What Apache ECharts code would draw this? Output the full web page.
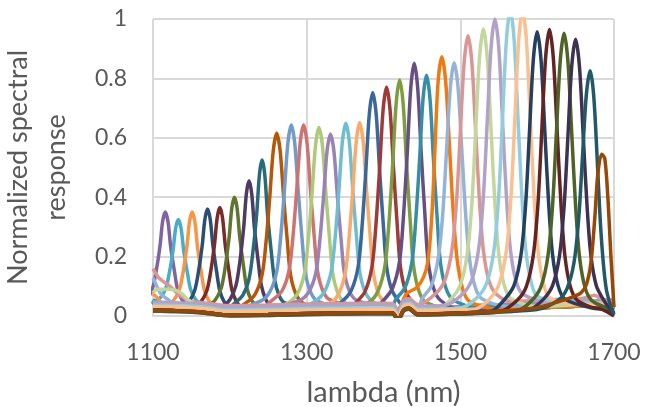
<!DOCTYPE html>
<html>
<head>
<meta charset="utf-8">
<script src="https://cdn.jsdelivr.net/npm/echarts@6/dist/echarts.min.js"></script>
<style>html,body{margin:0;padding:0;background:#fff}#c{width:645px;height:407px}</style>
</head>
<body>
<div id="c"></div>
<script>
// Tick labels
const xTicks = [1100, 1300, 1500, 1700];
const yTicks = [0, 0.2, 0.4, 0.6, 0.8, 1];

// One array per detector channel: [wavelength nm, normalized response]
const s01 = [[1081,0.038],[1091,0.054],[1099,0.09],[1104,0.149],[1109,0.233],[1112.5,0.318],[1116,0.35],[1119.5,0.318],[1123,0.233],[1128,0.149],[1132,0.09],[1138,0.054],[1145,0.038],[1165,0.03],[1200,0.02],[1250,0.022],[1300,0.025],[1350,0.027],[1400,0.028],[1412,0.027],[1419,0.003],[1426,0.037],[1433,0.043],[1445,0.023],[1500,0.027],[1550,0.033],[1600,0.037],[1650,0.043],[1680,0.045],[1700,0.035]];
const s02 = [[1098,0.042],[1108,0.057],[1116,0.089],[1121,0.142],[1126,0.219],[1129.5,0.296],[1133,0.325],[1136.5,0.296],[1140,0.219],[1145,0.142],[1149,0.089],[1155,0.057],[1162,0.042],[1200,0.025],[1250,0.027],[1300,0.03],[1350,0.032],[1400,0.033],[1412,0.032],[1419,0.008],[1426,0.042],[1433,0.048],[1445,0.028],[1500,0.032],[1550,0.038],[1600,0.042],[1650,0.048],[1680,0.05],[1700,0.04]];
const s03 = [[1100,0.075],[1106,0.06],[1112,0.04],[1116,0.033],[1126,0.05],[1134,0.086],[1139,0.145],[1144,0.231],[1147.5,0.317],[1151,0.35],[1154.5,0.317],[1158,0.231],[1163,0.145],[1167,0.086],[1173,0.05],[1180,0.033],[1200,0.015],[1250,0.017],[1300,0.02],[1350,0.022],[1400,0.023],[1412,0.022],[1419,-0.002],[1426,0.032],[1433,0.038],[1445,0.018],[1500,0.022],[1550,0.028],[1600,0.032],[1650,0.038],[1680,0.04],[1700,0.03]];
const s04 = [[1100,0.027],[1125,0.025],[1136,0.029],[1146,0.046],[1154,0.084],[1159,0.146],[1164,0.236],[1167.5,0.325],[1171,0.36],[1174.5,0.325],[1178,0.236],[1183,0.146],[1187,0.084],[1193,0.046],[1200,0.029],[1225,0.011],[1250,0.012],[1300,0.015],[1350,0.017],[1400,0.018],[1412,0.017],[1419,-0.007],[1426,0.027],[1433,0.033],[1445,0.013],[1500,0.017],[1550,0.023],[1600,0.027],[1650,0.033],[1680,0.035],[1700,0.025]];
const s05 = [[1100,0.027],[1130,0.025],[1152,0.029],[1162,0.047],[1170,0.085],[1175,0.148],[1180,0.239],[1183.5,0.33],[1187,0.365],[1190.5,0.33],[1194,0.239],[1199,0.148],[1203,0.085],[1209,0.047],[1216,0.029],[1250,0.012],[1300,0.015],[1350,0.017],[1400,0.018],[1412,0.017],[1419,-0.007],[1426,0.027],[1433,0.033],[1445,0.013],[1500,0.017],[1550,0.023],[1600,0.027],[1650,0.033],[1680,0.035],[1700,0.025]];
const s06 = [[1100,0.032],[1130,0.03],[1160,0.025],[1171,0.035],[1181,0.054],[1189,0.096],[1194,0.164],[1199,0.263],[1202.5,0.362],[1206,0.4],[1209.5,0.362],[1213,0.263],[1218,0.164],[1222,0.096],[1228,0.054],[1235,0.035],[1260,0.017],[1300,0.02],[1350,0.022],[1400,0.023],[1412,0.022],[1419,-0.002],[1426,0.032],[1433,0.038],[1445,0.018],[1500,0.022],[1550,0.028],[1600,0.032],[1650,0.038],[1680,0.04],[1700,0.03]];
const s07 = [[1100,0.027],[1130,0.025],[1165,0.02],[1190,0.033],[1200,0.055],[1208,0.103],[1213,0.182],[1218,0.297],[1221.5,0.411],[1225,0.455],[1228.5,0.411],[1232,0.297],[1237,0.182],[1241,0.103],[1247,0.055],[1254,0.033],[1300,0.015],[1350,0.017],[1400,0.018],[1412,0.017],[1419,-0.007],[1426,0.027],[1433,0.033],[1445,0.013],[1500,0.017],[1550,0.023],[1600,0.027],[1650,0.033],[1680,0.035],[1700,0.025]];
const s08 = [[1100,0.037],[1130,0.035],[1165,0.03],[1195,0.022],[1207,0.045],[1217,0.07],[1225,0.125],[1230,0.215],[1235,0.345],[1238.5,0.475],[1242,0.525],[1245.5,0.475],[1249,0.345],[1254,0.215],[1258,0.125],[1264,0.07],[1271,0.045],[1300,0.025],[1350,0.027],[1400,0.028],[1412,0.027],[1419,0.003],[1426,0.037],[1433,0.043],[1445,0.023],[1500,0.027],[1550,0.033],[1600,0.037],[1650,0.043],[1680,0.045],[1700,0.035]];
const s09 = [[1100,0.032],[1130,0.03],[1165,0.025],[1200,0.015],[1221,0.044],[1233,0.074],[1242,0.139],[1247,0.246],[1252,0.401],[1256.5,0.556],[1261,0.615],[1265.5,0.556],[1270,0.401],[1275,0.246],[1279,0.139],[1286,0.074],[1295,0.044],[1320,0.02],[1350,0.022],[1400,0.023],[1412,0.022],[1419,-0.002],[1426,0.032],[1433,0.038],[1445,0.018],[1500,0.022],[1550,0.028],[1600,0.032],[1650,0.038],[1680,0.04],[1700,0.03]];
const s10 = [[1100,0.037],[1130,0.035],[1165,0.03],[1200,0.02],[1240,0.05],[1252,0.081],[1261,0.149],[1266,0.26],[1271,0.421],[1275.5,0.581],[1280,0.643],[1284.5,0.581],[1289,0.421],[1294,0.26],[1298,0.149],[1305,0.081],[1314,0.05],[1350,0.027],[1400,0.028],[1412,0.027],[1419,0.003],[1426,0.037],[1433,0.043],[1445,0.023],[1500,0.027],[1550,0.033],[1600,0.037],[1650,0.043],[1680,0.045],[1700,0.035]];
const s11 = [[1100,0.042],[1130,0.04],[1165,0.035],[1200,0.025],[1240,0.027],[1256,0.055],[1268,0.085],[1277,0.153],[1282,0.263],[1287,0.422],[1291.5,0.582],[1296,0.643],[1300.5,0.582],[1305,0.422],[1310,0.263],[1314,0.153],[1321,0.085],[1330,0.055],[1365,0.032],[1400,0.033],[1412,0.032],[1419,0.008],[1426,0.042],[1433,0.048],[1445,0.028],[1500,0.032],[1550,0.038],[1600,0.042],[1650,0.048],[1680,0.05],[1700,0.04]];
const s12 = [[1100,0.032],[1130,0.03],[1165,0.025],[1200,0.015],[1250,0.017],[1276,0.045],[1288,0.075],[1297,0.143],[1302,0.254],[1307,0.414],[1311.5,0.574],[1316,0.635],[1320.5,0.574],[1325,0.414],[1330,0.254],[1334,0.143],[1341,0.075],[1350,0.045],[1375,0.022],[1400,0.023],[1412,0.022],[1419,-0.002],[1426,0.032],[1433,0.038],[1445,0.018],[1500,0.022],[1550,0.028],[1600,0.032],[1650,0.038],[1680,0.04],[1700,0.03]];
const s13 = [[1100,0.042],[1130,0.04],[1165,0.035],[1200,0.025],[1250,0.027],[1291,0.053],[1303,0.082],[1312,0.146],[1317,0.251],[1322,0.402],[1326.5,0.554],[1331,0.612],[1335.5,0.554],[1340,0.402],[1345,0.251],[1349,0.146],[1356,0.082],[1365,0.053],[1400,0.033],[1412,0.032],[1419,0.008],[1426,0.042],[1433,0.048],[1445,0.028],[1500,0.032],[1550,0.038],[1600,0.042],[1650,0.048],[1680,0.05],[1700,0.04]];
const s14 = [[1100,0.037],[1130,0.035],[1165,0.03],[1200,0.02],[1250,0.022],[1290,0.025],[1311,0.05],[1323,0.081],[1332,0.15],[1337,0.262],[1342,0.424],[1346.5,0.587],[1351,0.649],[1355.5,0.587],[1360,0.424],[1365,0.262],[1369,0.15],[1376,0.081],[1385,0.05],[1405,0.028],[1412,0.027],[1419,0.003],[1426,0.037],[1433,0.043],[1445,0.023],[1500,0.027],[1550,0.033],[1600,0.037],[1650,0.043],[1680,0.045],[1700,0.035]];
const s15 = [[1100,0.027],[1130,0.025],[1165,0.02],[1200,0.01],[1250,0.012],[1300,0.015],[1329,0.04],[1341,0.072],[1350,0.142],[1355,0.257],[1360,0.422],[1364.5,0.587],[1369,0.651],[1373.5,0.587],[1378,0.422],[1383,0.257],[1387,0.142],[1394,0.072],[1403,0.04],[1412,0.017],[1419,-0.007],[1426,0.027],[1433,0.033],[1445,0.013],[1500,0.017],[1550,0.023],[1600,0.027],[1650,0.033],[1680,0.035],[1700,0.025]];
const s16 = [[1100,0.032],[1130,0.03],[1165,0.025],[1200,0.015],[1250,0.017],[1300,0.02],[1330,0.022],[1346,0.049],[1358,0.086],[1367,0.166],[1372,0.298],[1377,0.488],[1381.5,0.679],[1386,0.752],[1390.5,0.679],[1395,0.488],[1400,0.298],[1404,0.166],[1411,0.086],[1420,0.049],[1426,0.032],[1433,0.038],[1445,0.018],[1500,0.022],[1550,0.028],[1600,0.032],[1650,0.038],[1680,0.04],[1700,0.03]];
const s17 = [[1100,0.027],[1130,0.025],[1165,0.02],[1200,0.01],[1250,0.012],[1300,0.015],[1350,0.017],[1364,0.045],[1376,0.083],[1385,0.166],[1390,0.302],[1395,0.498],[1399.5,0.695],[1404,0.77],[1408.5,0.695],[1413,0.498],[1418,0.302],[1422,0.166],[1429,0.083],[1438,0.045],[1450,0.015],[1500,0.017],[1550,0.023],[1600,0.027],[1650,0.033],[1680,0.035],[1700,0.025]];
const s18 = [[1100,0.027],[1130,0.025],[1165,0.02],[1200,0.01],[1250,0.012],[1300,0.015],[1350,0.017],[1381,0.046],[1393,0.085],[1402,0.171],[1407,0.311],[1412,0.514],[1416.5,0.717],[1421,0.795],[1425.5,0.717],[1430,0.514],[1435,0.311],[1439,0.171],[1446,0.085],[1455,0.046],[1500,0.017],[1550,0.023],[1600,0.027],[1650,0.033],[1680,0.035],[1700,0.025]];
const s19 = [[1100,0.032],[1130,0.03],[1165,0.025],[1200,0.015],[1250,0.017],[1300,0.02],[1350,0.022],[1385,0.023],[1400,0.053],[1412,0.095],[1421,0.186],[1426,0.336],[1431,0.552],[1435.5,0.768],[1440,0.851],[1444.5,0.768],[1449,0.552],[1454,0.336],[1458,0.186],[1465,0.095],[1474,0.053],[1500,0.022],[1550,0.028],[1600,0.032],[1650,0.038],[1680,0.04],[1700,0.03]];
const s20 = [[1100,0.055],[1110,0.04],[1130,0.035],[1165,0.03],[1200,0.02],[1250,0.022],[1300,0.025],[1350,0.027],[1400,0.028],[1410,0.027],[1416,0.056],[1428,0.096],[1437,0.182],[1442,0.324],[1447,0.528],[1451.5,0.732],[1456,0.811],[1460.5,0.732],[1465,0.528],[1470,0.324],[1474,0.182],[1481,0.096],[1490,0.056],[1520,0.028],[1550,0.033],[1600,0.037],[1650,0.043],[1680,0.045],[1700,0.035]];
const s21 = [[1100,0.027],[1130,0.025],[1165,0.02],[1200,0.01],[1250,0.012],[1300,0.015],[1350,0.017],[1400,0.018],[1412,0.017],[1419,0.02],[1430,0.075],[1443,0.095],[1452,0.13],[1458,0.187],[1463,0.341],[1467,0.564],[1471,0.787],[1476,0.873],[1481,0.787],[1486,0.564],[1491,0.341],[1496,0.187],[1503,0.092],[1512,0.049],[1550,0.023],[1600,0.027],[1650,0.033],[1680,0.035],[1700,0.025]];
const s22 = [[1100,0.128],[1105,0.1],[1110,0.075],[1117,0.06],[1130,0.04],[1165,0.03],[1200,0.02],[1250,0.022],[1300,0.025],[1350,0.027],[1400,0.028],[1412,0.027],[1419,0.003],[1426,0.037],[1433,0.043],[1445,0.023],[1450,0.058],[1462,0.1],[1471,0.191],[1477,0.34],[1482,0.555],[1487,0.77],[1492,0.853],[1497,0.77],[1502,0.555],[1507,0.34],[1512,0.191],[1519,0.1],[1528,0.058],[1560,0.033],[1600,0.037],[1650,0.043],[1680,0.045],[1700,0.035]];
const s23 = [[1100,0.16],[1107,0.13],[1114,0.115],[1122,0.1],[1135,0.07],[1148,0.05],[1165,0.045],[1200,0.035],[1250,0.037],[1300,0.04],[1350,0.042],[1400,0.043],[1412,0.042],[1419,0.018],[1426,0.052],[1433,0.058],[1445,0.038],[1468,0.076],[1480,0.121],[1489,0.221],[1495,0.384],[1500,0.619],[1505,0.854],[1510,0.944],[1515,0.854],[1520,0.619],[1525,0.384],[1530,0.221],[1537,0.121],[1546,0.076],[1565,0.05],[1600,0.052],[1640,0.058],[1660,0.06],[1675,0.07],[1685,0.055],[1700,0.055]];
const s24 = [[1100,0.078],[1106,0.09],[1118,0.09],[1129,0.087],[1137,0.076],[1146,0.054],[1160,0.03],[1200,0.015],[1250,0.017],[1300,0.02],[1350,0.022],[1400,0.023],[1412,0.022],[1419,-0.002],[1426,0.032],[1433,0.038],[1445,0.018],[1470,0.02],[1488,0.058],[1500,0.105],[1509,0.209],[1515,0.379],[1520,0.625],[1525,0.871],[1530,0.966],[1535,0.871],[1540,0.625],[1545,0.379],[1550,0.209],[1557,0.105],[1566,0.058],[1600,0.032],[1650,0.038],[1680,0.04],[1700,0.03]];
const s25 = [[1100,0.047],[1130,0.045],[1165,0.04],[1200,0.03],[1250,0.032],[1300,0.035],[1350,0.037],[1400,0.038],[1412,0.037],[1419,0.013],[1426,0.047],[1433,0.053],[1445,0.033],[1480,0.036],[1503,0.074],[1515,0.122],[1524,0.228],[1530,0.402],[1535,0.653],[1540,0.904],[1545,1.0],[1550,0.904],[1555,0.653],[1560,0.402],[1565,0.228],[1572,0.122],[1581,0.074],[1615,0.047],[1650,0.053],[1680,0.045],[1692,0.02],[1700,0.005]];
const s26 = [[1100,0.037],[1130,0.035],[1165,0.03],[1200,0.02],[1250,0.022],[1300,0.025],[1350,0.027],[1400,0.028],[1412,0.027],[1419,0.003],[1426,0.037],[1433,0.043],[1445,0.023],[1500,0.027],[1523,0.065],[1535,0.116],[1544,0.226],[1550,0.407],[1555,0.668],[1560,0.93],[1565,1.03],[1570,0.93],[1575,0.668],[1580,0.407],[1585,0.226],[1592,0.116],[1601,0.065],[1650,0.043],[1680,0.045],[1700,0.035]];
const s27 = [[1100,0.032],[1130,0.03],[1165,0.025],[1200,0.015],[1250,0.017],[1300,0.02],[1350,0.022],[1400,0.023],[1412,0.022],[1419,-0.002],[1426,0.032],[1433,0.038],[1445,0.018],[1500,0.022],[1520,0.024],[1539,0.06],[1551,0.111],[1560,0.222],[1566,0.404],[1571,0.666],[1576,0.929],[1581,1.03],[1586,0.929],[1591,0.666],[1596,0.404],[1601,0.222],[1608,0.111],[1617,0.06],[1660,0.038],[1680,0.04],[1700,0.03]];
const s28 = [[1100,0.02],[1130,0.018],[1165,0.013],[1200,0.003],[1250,0.005],[1300,0.008],[1350,0.01],[1400,0.011],[1412,0.01],[1419,-0.014],[1426,0.02],[1433,0.026],[1445,0.006],[1500,0.01],[1540,0.016],[1558,0.057],[1570,0.104],[1579,0.207],[1585,0.376],[1590,0.62],[1595,0.863],[1600,0.957],[1605,0.863],[1610,0.62],[1615,0.376],[1620,0.207],[1627,0.104],[1636,0.057],[1670,0.028],[1700,0.02]];
const s29 = [[1100,0.017],[1130,0.015],[1165,0.01],[1200,0.0],[1250,0.002],[1300,0.005],[1350,0.007],[1400,0.008],[1412,0.007],[1419,-0.017],[1426,0.017],[1433,0.023],[1445,0.003],[1500,0.007],[1550,0.013],[1574,0.053],[1586,0.1],[1595,0.205],[1601,0.376],[1606,0.623],[1611,0.87],[1616,0.965],[1621,0.87],[1626,0.623],[1631,0.376],[1636,0.205],[1643,0.1],[1652,0.053],[1670,0.03],[1682,0.025],[1690,0.015],[1700,0.0]];
const s30 = [[1100,0.017],[1130,0.015],[1165,0.01],[1200,0.0],[1250,0.002],[1300,0.005],[1350,0.007],[1400,0.008],[1412,0.007],[1419,-0.017],[1426,0.017],[1433,0.023],[1445,0.003],[1500,0.007],[1550,0.013],[1575,0.018],[1593,0.052],[1605,0.099],[1614,0.202],[1620,0.371],[1625,0.615],[1630,0.858],[1635,0.952],[1640,0.858],[1645,0.615],[1650,0.371],[1655,0.202],[1662,0.099],[1671,0.052],[1688,0.03],[1700,0.02]];
const s31 = [[1100,0.02],[1130,0.018],[1165,0.013],[1200,0.003],[1250,0.005],[1300,0.008],[1350,0.01],[1400,0.011],[1412,0.01],[1419,-0.014],[1426,0.02],[1433,0.026],[1445,0.006],[1500,0.01],[1550,0.016],[1590,0.022],[1608,0.056],[1620,0.102],[1629,0.202],[1635,0.367],[1640,0.604],[1645,0.841],[1650,0.932],[1655,0.841],[1660,0.604],[1665,0.367],[1670,0.202],[1677,0.102],[1686,0.056],[1693,0.03],[1700,0.01]];
const s32 = [[1100,0.02],[1130,0.018],[1165,0.013],[1200,0.003],[1250,0.005],[1300,0.008],[1350,0.01],[1400,0.011],[1412,0.01],[1419,-0.014],[1426,0.02],[1433,0.026],[1445,0.006],[1500,0.01],[1550,0.016],[1600,0.022],[1627,0.052],[1639,0.093],[1648,0.181],[1654,0.326],[1659,0.536],[1664,0.745],[1669,0.826],[1673.5,0.745],[1678,0.536],[1682,0.326],[1686,0.181],[1690,0.09],[1695,0.04],[1700,0.005]];
const s33 = [[1100,0.02],[1130,0.018],[1165,0.013],[1200,0.003],[1250,0.005],[1300,0.008],[1350,0.01],[1400,0.011],[1412,0.01],[1419,-0.014],[1426,0.02],[1433,0.026],[1445,0.006],[1500,0.01],[1550,0.016],[1600,0.028],[1630,0.05],[1645,0.063],[1657,0.078],[1664,0.105],[1670,0.18],[1675,0.33],[1679,0.48],[1684,0.545],[1688,0.53],[1692,0.4],[1696,0.2],[1700,0.03]];

const channels = [s01,s02,s03,s04,s05,s06,s07,s08,s09,s10,s11,s12,s13,s14,s15,s16,s17,s18,s19,s20,s21,s22,s23,s24,s25,s26,s27,s28,s29,s30,s31,s32,s33];

// Line colours, one per channel (style, not data)
const seriesColors = ['#8064A2','#4BACC6','#F79646','#2C4D75','#772C2A','#5F7530','#4D3B62','#276A7C','#B65708',
  '#729ACA','#CD7371','#AFC97A','#9983B5','#6FBDD1','#F9AB6B',
  '#3A679C','#9E3B39','#7E9D40','#664F83','#358EA6','#F07A12',
  '#95B3D7','#D99694','#C3D69B','#B3A2C7','#93CDDD','#FAC090',
  '#243F60','#632523','#4F6228','#3F3151','#215968','#974806'];

const FONT = 'Lato';
const TXT = '#595959';
const GRID = '#d9d9d9';

const chart = echarts.init(document.getElementById('c'), null, {renderer: 'canvas'});
chart.setOption({
  animation: false,
  backgroundColor: '#fff',
  grid: {left: 153, right: 31, top: 19, bottom: 91, containLabel: false, outerBoundsMode: 'none'},
  xAxis: {
    type: 'value', min: xTicks[0], max: xTicks[xTicks.length - 1], interval: xTicks[1] - xTicks[0],
    name: 'lambda (nm)', nameLocation: 'middle', nameGap: 62,
    nameTextStyle: {fontFamily: FONT, fontSize: 29, color: TXT},
    axisLine: {show: true, lineStyle: {color: GRID, width: 2}},
    axisTick: {show: false},
    axisLabel: {fontFamily: FONT, fontSize: 23, color: TXT, margin: 25, formatter: v => String(v)},
    splitLine: {show: true, lineStyle: {color: GRID, width: 2}}
  },
  yAxis: {
    type: 'value', min: yTicks[0], max: yTicks[yTicks.length - 1], interval: yTicks[1] - yTicks[0],
    name: 'Normalized spectral\nresponse', nameLocation: 'middle', nameGap: 78, nameRotate: 90,
    nameTextStyle: {fontFamily: FONT, fontSize: 27, color: TXT, lineHeight: 38, align: 'center'},
    axisLine: {show: false},
    axisTick: {show: false},
    axisLabel: {fontFamily: FONT, fontSize: 23, color: TXT, margin: 26},
    splitLine: {show: true, lineStyle: {color: GRID, width: 2}}
  },
  series: channels.map((d, i) => ({
    type: 'line', data: d, smooth: 0.3, showSymbol: false, clip: true,
    lineStyle: {width: 3.5, color: seriesColors[i]}, itemStyle: {color: seriesColors[i]},
    emphasis: {disabled: true}, z: 2
  }))
});
</script>
</body>
</html>
